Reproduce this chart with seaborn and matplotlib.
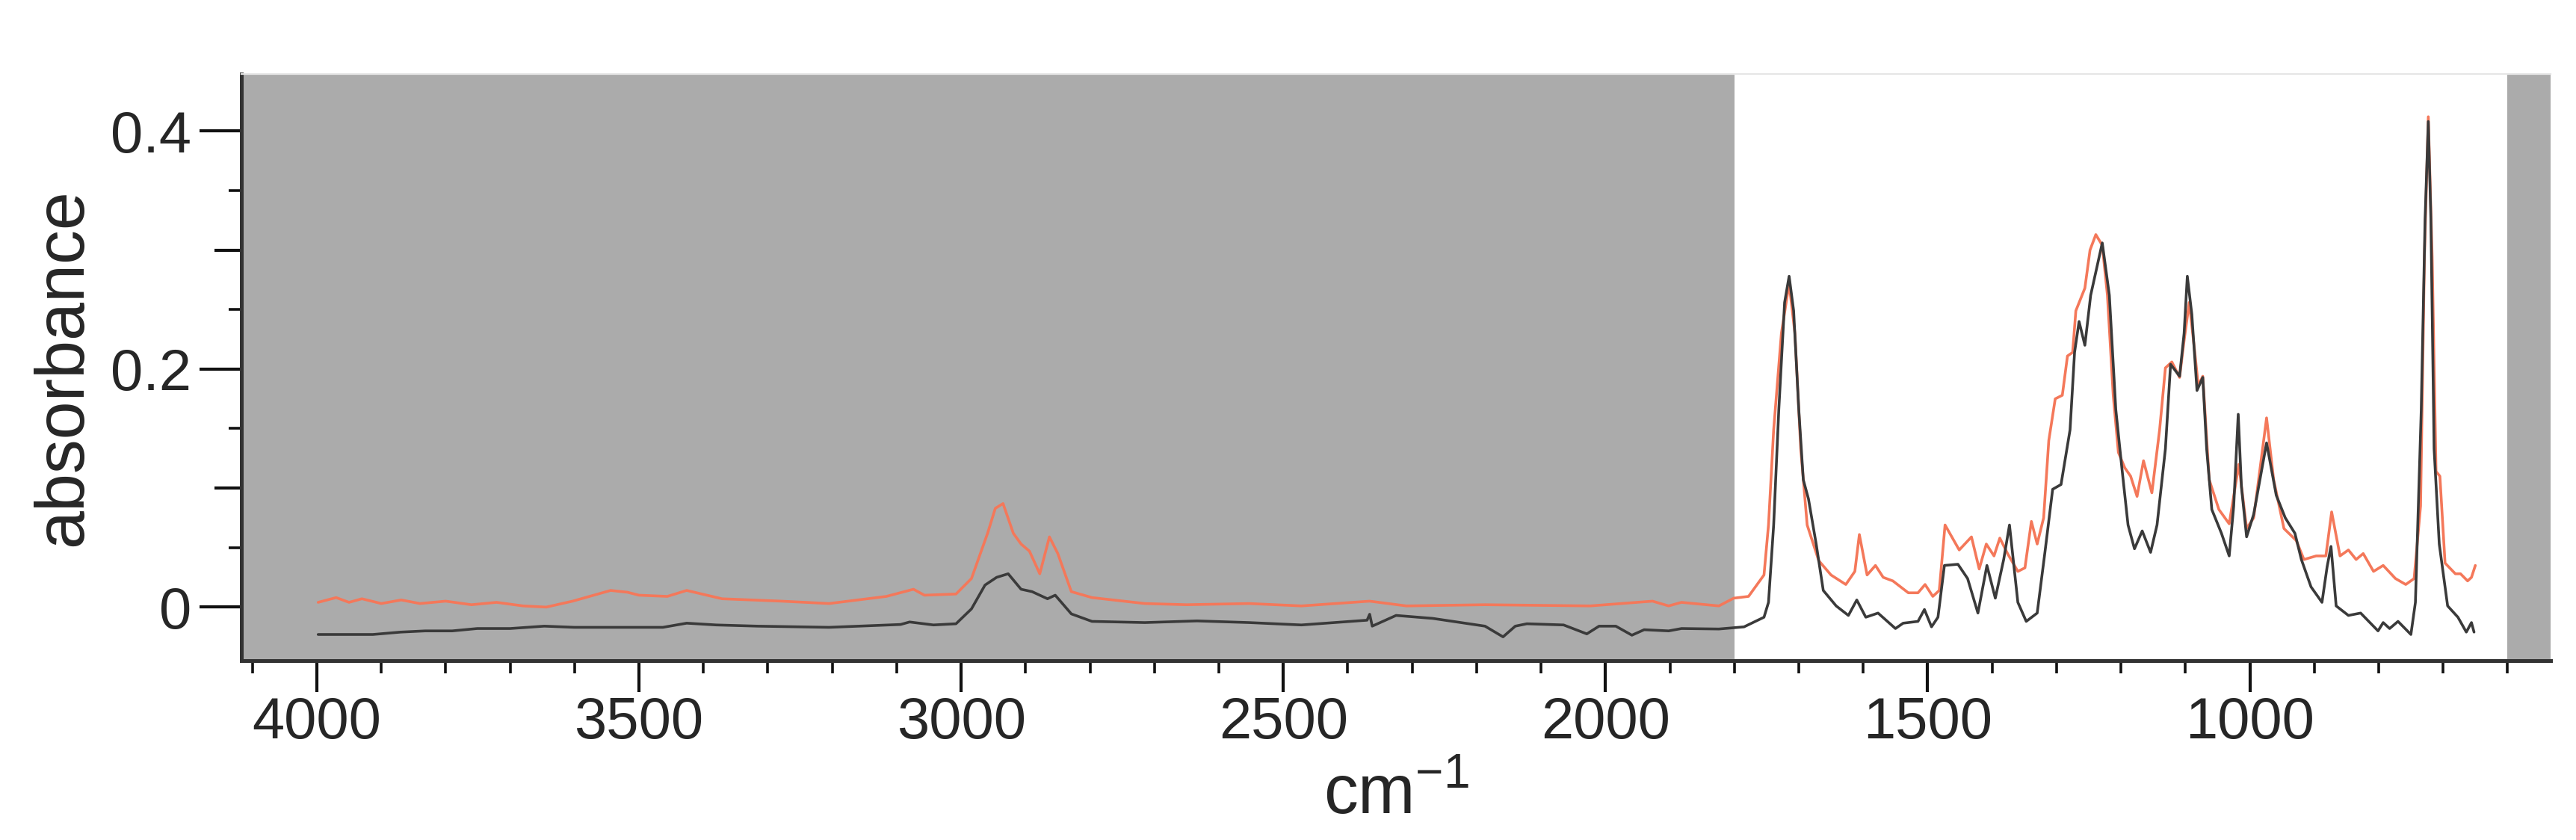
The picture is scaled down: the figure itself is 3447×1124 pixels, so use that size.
import matplotlib
matplotlib.use("Agg")
import matplotlib.pyplot as plt
import matplotlib.ticker as mticker
import seaborn as sns

# ---- data (cm-1, absorbance) ----
black_wn = [3998, 3913, 3870, 3832, 3790, 3751, 3700, 3647, 3600, 3537, 3463, 3426, 3380,
            3316, 3205, 3094, 3080, 3043, 3008, 2984, 2963, 2945, 2927, 2907, 2890, 2866,
            2854, 2829, 2797, 2715, 2634, 2553, 2472, 2370, 2366, 2362, 2325, 2268, 2187,
            2159, 2140, 2122, 2065, 2029, 2010, 1984, 1959, 1940, 1902, 1882,
            1824, 1785, 1754, 1747, 1739, 1731, 1722, 1715, 1708, 1700, 1693, 1685, 1673,
            1662, 1642, 1623, 1610, 1596, 1577, 1550, 1538, 1515, 1505, 1494, 1484, 1474,
            1453, 1438, 1422, 1408, 1395, 1382, 1373, 1360, 1347, 1330, 1318, 1306, 1293,
            1279, 1272, 1265, 1256, 1247, 1229, 1218, 1208, 1198, 1189, 1179, 1167, 1154,
            1144, 1131, 1123, 1109, 1102, 1097, 1090, 1082, 1073, 1067, 1059, 1044, 1032,
            1025, 1018, 1013, 1005, 994, 974, 959, 945, 930, 920, 905, 888, 880, 874, 866,
            847, 828, 801, 793, 783, 770, 750, 743, 734, 728, 723, 719, 714, 706, 693, 677,
            664, 656, 652]
black_abs = [-0.023, -0.023, -0.021, -0.020, -0.020, -0.018, -0.018, -0.016, -0.017, -0.017,
             -0.017, -0.0135, -0.015, -0.016, -0.017, -0.0146, -0.0125, -0.015, -0.014,
             -0.0015, 0.0185, 0.025, 0.028, 0.015, 0.013, 0.007, 0.010, -0.0057, -0.012,
             -0.013, -0.0116, -0.013, -0.015, -0.011, -0.006, -0.016, -0.007, -0.0095,
             -0.016, -0.025, -0.016, -0.014, -0.015, -0.0225, -0.016, -0.016, -0.0236,
             -0.019, -0.020, -0.018,
             -0.0184, -0.0166, -0.0085, 0.004, 0.069, 0.166, 0.256, 0.278, 0.249, 0.166,
             0.107, 0.091, 0.053, 0.014, 0.001, -0.007, 0.006, -0.0085, -0.005, -0.018,
             -0.0135, -0.012, -0.002, -0.0166, -0.0085, 0.035, 0.036, 0.024, -0.005, 0.035,
             0.0075, 0.040, 0.069, 0.004, -0.012, -0.005, 0.046, 0.099, 0.103, 0.149, 0.214,
             0.240, 0.220, 0.262, 0.306, 0.262, 0.166, 0.114, 0.069, 0.049, 0.064, 0.046,
             0.069, 0.133, 0.204, 0.194, 0.230, 0.278, 0.246, 0.182, 0.193, 0.133, 0.082,
             0.062, 0.043, 0.085, 0.162, 0.101, 0.059, 0.078, 0.138, 0.094, 0.075, 0.062,
             0.040, 0.017, 0.004, 0.034, 0.051, 0.001, -0.007, -0.005, -0.020, -0.013,
             -0.018, -0.012, -0.023, 0.004, 0.165, 0.326, 0.408, 0.326, 0.133, 0.053, 0.001,
             -0.0085, -0.021, -0.013, -0.021]

red_wn = [3998, 3970, 3950, 3930, 3900, 3869, 3840, 3800, 3760, 3721, 3680, 3644, 3603, 3544,
          3518, 3500, 3456, 3426, 3371, 3279, 3205, 3116, 3074, 3057, 3008, 2984, 2959, 2947,
          2935, 2919, 2907, 2894, 2878, 2863, 2850, 2829, 2797, 2715, 2650, 2553, 2472, 2366,
          2309, 2187, 2024, 1927, 1902, 1882,
          1824, 1801, 1778, 1754, 1747, 1739, 1727, 1715, 1706, 1697, 1687, 1669, 1650, 1627,
          1613, 1606, 1594, 1581, 1569, 1554, 1530, 1515, 1504, 1492, 1482, 1473, 1451, 1432,
          1420, 1409, 1397, 1388, 1376, 1360, 1349, 1339, 1330, 1320, 1312, 1302, 1291, 1283,
          1275, 1270, 1256, 1248, 1239, 1229, 1221, 1212, 1204, 1194, 1185, 1175, 1165, 1152,
          1140, 1131, 1121, 1109, 1102, 1094, 1086, 1080, 1073, 1063, 1048, 1032, 1017, 1005,
          994, 974, 963, 947, 928, 916, 897, 882, 873, 860, 847, 835, 824, 808, 793, 774, 758,
          745, 735, 729, 723, 717, 711, 705, 697, 681, 673, 662, 656, 650]
red_abs = [0.004, 0.008, 0.004, 0.007, 0.003, 0.006, 0.003, 0.005, 0.002, 0.004, 0.001, 0.0,
           0.005, 0.014, 0.0125, 0.010, 0.009, 0.014, 0.007, 0.005, 0.003, 0.009, 0.015, 0.010,
           0.011, 0.024, 0.062, 0.083, 0.087, 0.062, 0.053, 0.047, 0.028, 0.059, 0.045, 0.013,
           0.008, 0.003, 0.002, 0.003, 0.001, 0.005, 0.001, 0.002, 0.001, 0.005, 0.001, 0.004,
           0.001, 0.0075, 0.009, 0.027, 0.069, 0.149, 0.230, 0.272, 0.230, 0.133, 0.069, 0.039,
           0.027, 0.019, 0.030, 0.061, 0.027, 0.035, 0.025, 0.022, 0.012, 0.012, 0.019, 0.009,
           0.014, 0.069, 0.048, 0.059, 0.032, 0.053, 0.043, 0.058, 0.045, 0.030, 0.033, 0.072,
           0.053, 0.075, 0.140, 0.175, 0.178, 0.211, 0.214, 0.249, 0.268, 0.300, 0.313, 0.304,
           0.262, 0.178, 0.130, 0.117, 0.110, 0.093, 0.123, 0.096, 0.149, 0.201, 0.206, 0.193,
           0.224, 0.256, 0.217, 0.186, 0.194, 0.107, 0.082, 0.070, 0.120, 0.066, 0.075, 0.159,
           0.107, 0.066, 0.056, 0.040, 0.043, 0.043, 0.080, 0.043, 0.048, 0.040, 0.045, 0.030,
           0.035, 0.024, 0.019, 0.024, 0.085, 0.294, 0.412, 0.294, 0.114, 0.110, 0.037, 0.028,
           0.028, 0.022, 0.025, 0.035]

shade_ranges = [(4117, 1800), (600, 533)]
y_tick_vals = [0, 0.1, 0.2, 0.3, 0.4]
y_tick_text = ["0", "", "0.2", "", "0.4"]

sns.set_theme(style="ticks")
plt.rcParams["font.family"] = ["Liberation Sans", "DejaVu Sans"]
plt.rcParams["mathtext.fontset"] = "custom"
plt.rcParams["mathtext.rm"] = "Liberation Sans"
plt.rcParams["mathtext.default"] = "regular"

fig, ax = plt.subplots(figsize=(17.24, 5.62), dpi=200)
fig.subplots_adjust(left=0.0937, right=0.9899, top=0.912, bottom=0.2135)

for lo, hi in shade_ranges:
    ax.axvspan(lo, hi, color="#ababab", lw=0, zorder=0)

sns.lineplot(x=black_wn, y=black_abs, sort=False, estimator=None, ax=ax,
             color="#3a3a3a", lw=1.3, zorder=3)
sns.lineplot(x=red_wn, y=red_abs, sort=False, estimator=None, ax=ax,
             color="#f4785a", lw=1.3, zorder=2)

ax.set_xlim(4117, 533)
ax.set_ylim(-0.045, 0.448)

ax.xaxis.set_major_locator(mticker.MultipleLocator(500))
ax.xaxis.set_minor_locator(mticker.MultipleLocator(100))
ax.yaxis.set_major_locator(mticker.FixedLocator(y_tick_vals))
ax.yaxis.set_major_formatter(mticker.FixedFormatter(y_tick_text))
ax.yaxis.set_minor_locator(mticker.MultipleLocator(0.05))

ax.tick_params(axis="x", which="major", direction="out", length=15, width=1.5,
               labelsize=28, pad=2, color="#111111")
ax.tick_params(axis="x", which="minor", direction="out", length=6, width=1.3,
               color="#111111")
ax.tick_params(axis="y", which="major", direction="out", length=20, width=1.5,
               labelsize=28, pad=4, color="#111111")
ax.tick_params(axis="y", which="minor", direction="out", length=6, width=1.3,
               color="#111111")
# medium ticks at 0.1 and 0.3
for i, t in enumerate(ax.yaxis.get_major_ticks()):
    if y_tick_text[i] == "":
        t.tick1line.set_markersize(13)

for side in ["left", "bottom"]:
    ax.spines[side].set_color("#333333")
    ax.spines[side].set_linewidth(1.8)
ax.spines["top"].set_color("#e6e6e6")
ax.spines["top"].set_linewidth(0.8)
ax.spines["right"].set_visible(False)

ax.set_xlabel("cm$^{-1}$", fontsize=33)
ax.set_ylabel("absorbance", fontsize=33)
ax.xaxis.set_label_coords(0.5, -0.175)
ax.yaxis.set_label_coords(-0.063, 0.5)

fig.savefig("out.png", dpi=200)
